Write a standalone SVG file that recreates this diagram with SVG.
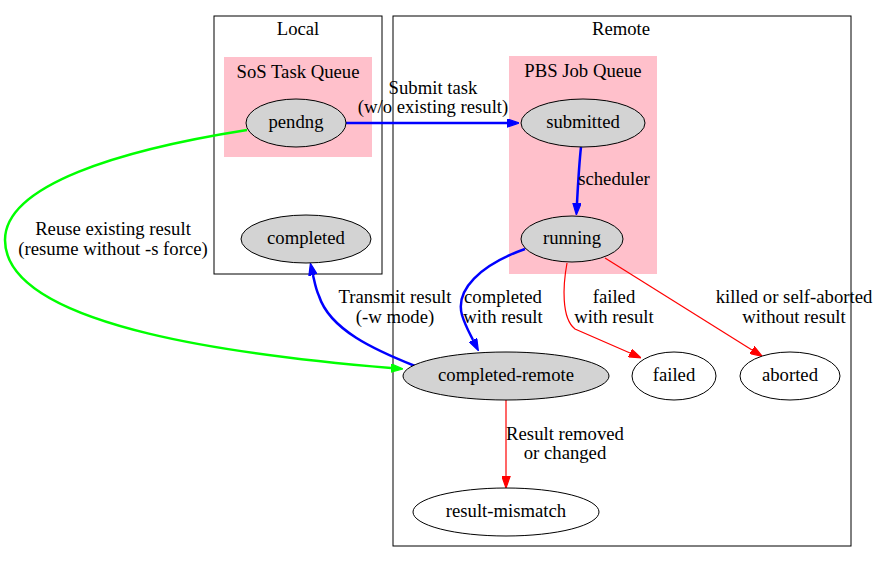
<svg xmlns="http://www.w3.org/2000/svg" width="879" height="563" viewBox="0 0 879 563">
<style>
text{font-family:"Liberation Serif","Times New Roman",serif;font-size:18.7px;text-anchor:middle;fill:#000}
.cl{fill:none;stroke:#000;stroke-width:1}
.q{fill:#ffc0cb;stroke:none}
.g{fill:#d3d3d3;stroke:#000;stroke-width:1}
.w{fill:#fff;stroke:#000;stroke-width:1}
.eb{fill:none;stroke:#0000ff;stroke-width:2.5}
.eg{fill:none;stroke:#00ff00;stroke-width:2.5}
.er{fill:none;stroke:#ff0000;stroke-width:1.2}
</style>
<defs>
<marker id="ab" viewBox="0 0 10 7" refX="0" refY="3.5" markerWidth="12" markerHeight="9" markerUnits="userSpaceOnUse" orient="auto"><path d="M0,0 L10,3.5 L0,7 Z" fill="#0000ff" stroke="#0000ff"/></marker>
<marker id="ag" viewBox="0 0 10 7" refX="0" refY="3.5" markerWidth="12" markerHeight="9" markerUnits="userSpaceOnUse" orient="auto"><path d="M0,0 L10,3.5 L0,7 Z" fill="#00ff00" stroke="#00ff00"/></marker>
<marker id="ar" viewBox="0 0 10 7" refX="0" refY="3.5" markerWidth="12" markerHeight="9" markerUnits="userSpaceOnUse" orient="auto"><path d="M0,0 L10,3.5 L0,7 Z" fill="#ff0000" stroke="#ff0000"/></marker>
</defs>
<rect width="879" height="563" fill="#fff"/>
<g id="cluster_local">
<rect class="cl" x="214" y="16" width="168" height="258"/>
<text x="298" y="35">Local</text>
<rect class="q" x="224" y="57" width="148" height="100"/>
<text x="298" y="78">SoS Task Queue</text>
</g>
<g id="cluster_remote">
<rect class="cl" x="393" y="16" width="458" height="530"/>
<text x="621" y="35">Remote</text>
<rect class="q" x="509" y="56" width="148" height="218"/>
<text x="583" y="77">PBS Job Queue</text>
</g>
<g id="edges">
<path class="eg" d="M247,130 C120,150 5,185 5,240 C5,330 260,357 391,368" marker-end="url(#ag)"/>
<path class="eb" d="M346,123 L507,123" marker-end="url(#ab)"/>
<path class="eb" d="M581,147 C579,165 578,185 577,203" marker-end="url(#ab)"/>
<path class="eb" d="M525,249 C480,265 455,290 462,315 C465,325 469,332 473,340" marker-end="url(#ab)"/>
<path class="eb" d="M415,366 C375,350 330,330 319,296 C316,290 315,284 313,275" marker-end="url(#ab)"/>
<path class="er" d="M567,263 C563,285 561,318 575,329 L630,353" marker-end="url(#ar)"/>
<path class="er" d="M605,258 L752,350" marker-end="url(#ar)"/>
<path class="er" d="M506,400 L506,476" marker-end="url(#ar)"/>
<text x="433" y="94">Submit task</text>
<text x="433" y="113">(w/o existing result)</text>
<text x="614" y="185">scheduler</text>
<text x="113" y="235">Reuse existing result</text>
<text x="113" y="255">(resume without -s force)</text>
<text x="395" y="303">Transmit result</text>
<text x="395" y="323">(-w mode)</text>
<text x="503" y="303">completed</text>
<text x="503" y="323">with result</text>
<text x="614" y="303">failed</text>
<text x="614" y="323">with result</text>
<text x="794" y="303">killed or self-aborted</text>
<text x="794" y="323">without result</text>
<text x="565" y="440">Result removed</text>
<text x="565" y="459">or changed</text>
</g>
<g id="pendng"><ellipse class="g" cx="296" cy="123" rx="50" ry="24"/><text x="296" y="128">pendng</text></g>
<g id="completed"><ellipse class="g" cx="306" cy="239" rx="65" ry="24"/><text x="306" y="244">completed</text></g>
<g id="submitted"><ellipse class="g" cx="583" cy="123" rx="62" ry="24"/><text x="583" y="128">submitted</text></g>
<g id="running"><ellipse class="g" cx="572" cy="239" rx="51" ry="23"/><text x="572" y="244">running</text></g>
<g id="completed-remote"><ellipse class="g" cx="506" cy="376" rx="103" ry="24"/><text x="506" y="381">completed-remote</text></g>
<g id="failed"><ellipse class="w" cx="674" cy="376" rx="42" ry="24"/><text x="674" y="381">failed</text></g>
<g id="aborted"><ellipse class="w" cx="790" cy="376" rx="50" ry="24"/><text x="790" y="381">aborted</text></g>
<g id="result-mismatch"><ellipse class="w" cx="506" cy="512" rx="93" ry="24"/><text x="506" y="517">result-mismatch</text></g>
</svg>
